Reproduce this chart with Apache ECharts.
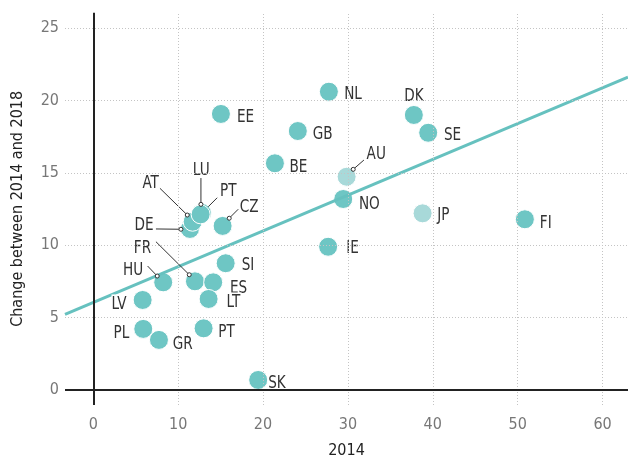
<!DOCTYPE html>
<html>
<head>
<meta charset="utf-8">
<script src="https://cdn.jsdelivr.net/npm/echarts@6/dist/echarts.min.js"></script>
<style>html,body{margin:0;padding:0;background:#fff}#c{width:628px;height:458px}</style>
</head>
<body>
<div id="c"></div>
<script>
const countries = ['NL','DK','EE','GB','SE','BE','AU','NO','JP','FI','IE','CZ','DE','AT','PT','LU','SI','HU','FR','ES','LT','LV','PL','GR','PT','SK'];
const value2014 = [27.76,37.77,15.04,24.10,39.46,21.40,29.85,29.45,38.80,50.85,27.67,15.24,11.39,11.71,12.80,12.65,15.60,8.24,11.98,14.13,13.59,5.82,5.89,7.74,13.00,19.43];
const change2014to2018 = [20.62,19.01,19.08,17.90,17.78,15.67,14.74,13.20,12.21,11.80,9.90,11.34,11.13,11.63,12.23,12.14,8.76,7.44,7.51,7.44,6.29,6.22,4.22,3.46,4.26,0.69];
const lightCountries = ['AU','JP'];
const xTicks = [0,10,20,30,40,50,60];
const yTicks = [0,5,10,15,20,25];
const trendX = [-3.33, 63];
const trendY = [5.23, 21.62];

// label placement styles (pixel offsets from point centre), same order as countries
const labelStyles = [
  {dx:15.3, dy:1},
  {dx:0, dy:-21, align:'center'},
  {dx:16, dy:1.5},
  {dx:15, dy:1},
  {dx:15.7, dy:1},
  {dx:14.6, dy:1.7},
  {dx:29.6, dy:-24.2, align:'center', line:[6.6,-7.4,17.3,-16.7], dot:true},
  {dx:15.7, dy:3},
  {dx:14.6, dy:0},
  {dx:15, dy:2.4},
  {dx:17.4, dy:0, bg:true},
  {dx:26.5, dy:-20.2, align:'center', line:[6.6,-7.7,15.6,-16.7], dot:true},
  {dx:-45.8, dy:-5.7, align:'center', line:[-9,0.3,-34,0], dot:true},
  {dx:-42, dy:-40.5, align:'center', line:[-5.4,-6.7,-32.7,-33.4], dot:true},
  {dx:26.3, dy:-23.8, align:'center', line:[6.3,-6.3,15.3,-15.3], dot:false},
  {dx:0.6, dy:-46.5, align:'center', line:[0.3,-10,0.3,-36.3], dot:true},
  {dx:16, dy:0},
  {dx:-30, dy:-14, align:'center', line:[-6,-6.3,-15.6,-16.3], dot:true},
  {dx:-52.5, dy:-34.6, align:'center', line:[-5.7,-6.6,-39,-39.6], dot:true},
  {dx:16.7, dy:3.5},
  {dx:18, dy:1.7},
  {dx:-16, dy:2.5, align:'right'},
  {dx:-14, dy:2, align:'right'},
  {dx:13.7, dy:2},
  {dx:14.6, dy:1.7},
  {dx:10, dy:1}
];

const FONT = "'DejaVu Sans Condensed', 'DejaVu Sans', sans-serif";
const TEAL = '#6ec6c4';
const LIGHT = '#a8d9d9';

const points = countries.map((c, i) => ({
  value: [value2014[i], change2014to2018[i]],
  itemStyle: {color: lightCountries.includes(c) ? LIGHT : TEAL}
}));

const gridLines = [];
xTicks.filter(v => v !== 0).forEach(v => gridLines.push({xAxis: v}));
yTicks.filter(v => v !== 0).forEach(v => gridLines.push({yAxis: v}));
const axisStyle = {color: '#222', width: 2, type: 'solid'};
gridLines.push({xAxis: 0, lineStyle: axisStyle});
gridLines.push({yAxis: 0, lineStyle: axisStyle});

const chart = echarts.init(document.getElementById('c'), null, {renderer: 'canvas'});
chart.setOption({
  animation: false,
  backgroundColor: '#fff',
  grid: {left: 65, right: 0, top: 12.7, bottom: 53, containLabel: false, outerBoundsMode: 'none'},
  xAxis: {
    type: 'value', min: -3.33, max: 63,
    axisLine: {show: false}, axisTick: {show: false}, splitLine: {show: false},
    axisLabel: {customValues: xTicks, margin: 12, color: '#777', fontSize: 16, fontFamily: FONT},
    name: '2014', nameLocation: 'middle', nameGap: 38,
    nameTextStyle: {fontSize: 16, color: '#222', fontFamily: FONT}
  },
  yAxis: {
    type: 'value', min: -1.04, max: 26.08,
    axisLine: {show: false}, axisTick: {show: false}, splitLine: {show: false},
    axisLabel: {customValues: yTicks, margin: 6, color: '#777', fontSize: 16, fontFamily: FONT, padding: [6, 0, 0, 0]},
    name: 'Change between 2014 and 2018', nameLocation: 'middle', nameGap: 39,
    nameTextStyle: {fontSize: 16, color: '#222', fontFamily: FONT}
  },
  series: [
    {
      type: 'scatter', data: [], z: 1, silent: true,
      markLine: {
        silent: true, symbol: 'none', label: {show: false},
        lineStyle: {color: '#c4c4c4', width: 1, type: [1, 2]},
        data: gridLines
      }
    },
    {
      type: 'scatter', z: 2, symbolSize: 19, data: points,
      itemStyle: {borderColor: '#fff', borderWidth: 1, opacity: 1}
    },
    {
      type: 'line', z: 3, symbol: 'none', silent: true,
      data: trendX.map((x, i) => [x, trendY[i]]),
      lineStyle: {color: '#66c1bf', width: 3}
    },
    {
      type: 'custom', z: 4, clip: false, silent: true,
      data: countries.map((c, i) => [value2014[i], change2014to2018[i]]),
      renderItem: function (params, api) {
        const i = params.dataIndex;
        const p = api.coord([api.value(0), api.value(1)]);
        const s = labelStyles[i];
        const children = [];
        if (s.line) {
          children.push({type: 'line', shape: {x1: p[0] + s.line[0], y1: p[1] + s.line[1], x2: p[0] + s.line[2], y2: p[1] + s.line[3]},
            style: {stroke: '#333', lineWidth: 1}});
          if (s.dot) children.push({type: 'circle', shape: {cx: p[0] + s.line[0], cy: p[1] + s.line[1], r: 2},
            style: {fill: '#fff', stroke: '#333', lineWidth: 1}});
        }
        const ts = {text: countries[i], fill: '#333', fontSize: 18, fontFamily: FONT,
          align: s.align || 'left', verticalAlign: 'middle', stroke: '#fff', lineWidth: 3};
        if (s.bg) { ts.backgroundColor = '#fff'; ts.padding = [3, 1]; }
        children.push({type: 'text', x: p[0] + s.dx, y: p[1] + s.dy + 2, scaleX: 0.84, style: ts});
        return {type: 'group', children: children};
      }
    }
  ]
});
</script>
</body>
</html>
